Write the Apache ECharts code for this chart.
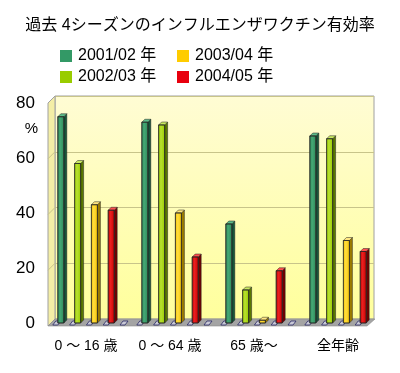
<!DOCTYPE html>
<html><head><meta charset="utf-8">
<script src="https://cdn.jsdelivr.net/npm/echarts@6/dist/echarts.min.js"></script>
<style>html,body{margin:0;padding:0;background:#fff}#c{width:400px;height:373px}</style>
</head><body><div id="c"></div>
<script>
var categories = ['0 ～ 16 歳', '0 ～ 64 歳', '65 歳～', '全年齢'];
var seriesNames = ['2001/02 年', '2002/03 年', '2003/04 年', '2004/05 年'];
var s2001 = [75, 73, 36, 68];
var s2002 = [58, 72, 12, 67];
var s2003 = [43, 40, 1, 30];
var s2004 = [41, 24, 19, 26];
var yTicks = [0, 20, 40, 60, 80];

var FONT = '"Liberation Sans", Arial, "Noto Sans CJK JP", sans-serif';
var styles = [
  {legend: '#339966', front: '#2e8b5a', light: '#45a875', side: '#17553a', top: '#5cbc8a'},
  {legend: '#99cc00', front: '#99cc00', light: '#b8e030', side: '#5a7800', top: '#c8e860'},
  {legend: '#ffcc00', front: '#f5c400', light: '#ffdd40', side: '#9c7c00', top: '#ffe680'},
  {legend: '#e8000e', front: '#cc0000', light: '#e82020', side: '#700000', top: '#ff5050'}
];
var allData = [s2001, s2002, s2003, s2004];

function diamond(cx, yB) {
  return {type: 'polygon', shape: {points: [[cx - 8, yB + 2], [cx - 3, yB + 2], [cx, yB - 2], [cx - 5, yB - 2]]},
    style: {fill: '#c9c9d6', stroke: '#2a2a66', lineWidth: 0.8}};
}

function make3D(idx) {
  var st = styles[idx];
  return function (params, api) {
    var cat = api.value(0), v = api.value(1);
    var p = api.coord([cat, v]), b = api.coord([cat, 0]);
    var band = api.size([1, 0])[0];
    var cx = p[0] + (idx - 1.5) * band / 5;
    var w = 6, d = 3, x = cx - 3, yT = p[1], yB = b[1];
    return {type: 'group', children: [
      diamond(cx, yB),
      {type: 'polygon', shape: {points: [[x + w, yT], [x + w + d, yT - d], [x + w + d, yB - d], [x + w, yB]]},
        style: {fill: st.side, stroke: '#222', lineWidth: 0.5}},
      {type: 'polygon', shape: {points: [[x, yT], [x + d, yT - d], [x + w + d, yT - d], [x + w, yT]]},
        style: {fill: st.top, stroke: '#222', lineWidth: 0.5}},
      {type: 'rect', shape: {x: x, y: yT, width: w, height: yB - yT},
        style: {fill: new echarts.graphic.LinearGradient(0, 0, 1, 0, [
          {offset: 0, color: st.front}, {offset: 0.4, color: st.light}, {offset: 1, color: st.front}]),
          stroke: '#222', lineWidth: 0.6}}
    ]};
  };
}

var series = [];
for (var i = 0; i < 4; i++) {
  series.push({
    name: seriesNames[i], type: 'custom', xAxisIndex: 0, yAxisIndex: 0,
    itemStyle: {color: styles[i].legend},
    encode: {x: 0, y: 1},
    data: allData[i].map(function (v, k) { return [k, v]; }),
    renderItem: make3D(i), z: 3
  });
}
// empty slot floor markers between groups
series.push({
  name: 'gap', type: 'custom', xAxisIndex: 0, yAxisIndex: 0, encode: {x: 0, y: 1}, z: 3,
  data: categories.slice(0, categories.length - 1).map(function (c, k) { return [k, 0]; }),
  renderItem: function (params, api) {
    var b = api.coord([api.value(0), 0]);
    var band = api.size([1, 0])[0];
    return diamond(b[0] + 2.5 * band / 5, b[1]);
  }
});

var chart = echarts.init(document.getElementById('c'));
var option = {
  animation: false,
  backgroundColor: '#ffffff',
  title: {text: '過去 4シーズンのインフルエンザワクチン有効率', left: 'center', top: 18, padding: 0,
    textStyle: {fontSize: 16, fontWeight: 'normal', color: '#000', fontFamily: FONT}},
  legend: [
    {data: [seriesNames[0], seriesNames[1]], orient: 'vertical', left: 60, top: 48, padding: 0,
      itemWidth: 12, itemHeight: 12, itemGap: 5, icon: 'rect',
      textStyle: {fontSize: 16, lineHeight: 16, color: '#000', fontFamily: FONT, padding: [0, 0, 0, 1]}},
    {data: [seriesNames[2], seriesNames[3]], orient: 'vertical', left: 177, top: 48, padding: 0,
      itemWidth: 12, itemHeight: 12, itemGap: 5, icon: 'rect',
      textStyle: {fontSize: 16, lineHeight: 16, color: '#000', fontFamily: FONT, padding: [0, 0, 0, 1]}}
  ],
  grid: [
    {left: 44, right: 20, top: 103, bottom: 50},
    {left: 55, right: 26, top: 96, bottom: 54, show: true,
      backgroundColor: new echarts.graphic.LinearGradient(0, 0, 0, 1, [
        {offset: 0, color: '#fffcd4'}, {offset: 1, color: '#ffff9c'}]),
      borderColor: '#a0a0a0', borderWidth: 1}
  ],
  xAxis: [
    {type: 'category', gridIndex: 0, data: categories, axisLine: {show: false}, axisTick: {show: false},
      axisLabel: {fontSize: 14, color: '#000', margin: 16, fontFamily: FONT}},
    {type: 'value', gridIndex: 1, show: false, min: 0, max: 1}
  ],
  yAxis: [
    {type: 'value', gridIndex: 0, min: yTicks[0], max: yTicks[yTicks.length - 1], interval: 20,
      axisLine: {show: false}, axisTick: {show: false}, splitLine: {show: false},
      axisLabel: {fontSize: 17, color: '#000', margin: 9, padding: [8, 0, 0, 0], fontFamily: FONT}},
    {type: 'value', gridIndex: 1, min: yTicks[0], max: yTicks[yTicks.length - 1], interval: 20,
      axisLine: {show: false}, axisTick: {show: false}, axisLabel: {show: false},
      splitLine: {lineStyle: {color: '#c8c48a', width: 1}}}
  ],
  series: series
};
chart.setOption(option);

// 3D side wall, floor and side-wall gridline segments (decoration)
var d = 7;
var wallL = 55, wallR = 374;
var y80 = chart.convertToPixel({yAxisIndex: 1}, 80);
var y0 = chart.convertToPixel({yAxisIndex: 1}, 0);
var g = [
  {type: 'polygon', z: 1, shape: {points: [[wallL - d, y80 + d], [wallL, y80], [wallL, y0], [wallL - d, y0 + d]]},
    style: {fill: '#f4eea6', stroke: '#a0a0a0', lineWidth: 1}}
];
[20, 40, 60].forEach(function (v) {
  var yy = chart.convertToPixel({yAxisIndex: 1}, v);
  g.push({type: 'line', z: 1, shape: {x1: wallL, y1: yy, x2: wallL - d, y2: yy + d},
    style: {stroke: '#c8c48a', lineWidth: 1}});
});
g.push({type: 'polygon', z: 1, shape: {points: [[wallL - d, y0 + d], [wallR - d, y0 + d], [wallR + 1, y0], [wallL, y0]]},
  style: {fill: '#a4a4a4', stroke: '#8a8a8a', lineWidth: 0.6}});
g.push({type: 'text', z: 5, style: {text: '%', x: 31.5, y: 129, align: 'center', verticalAlign: 'middle',
  font: '15px ' + FONT, fill: '#000'}});
chart.setOption({graphic: g});
</script>
</body></html>
